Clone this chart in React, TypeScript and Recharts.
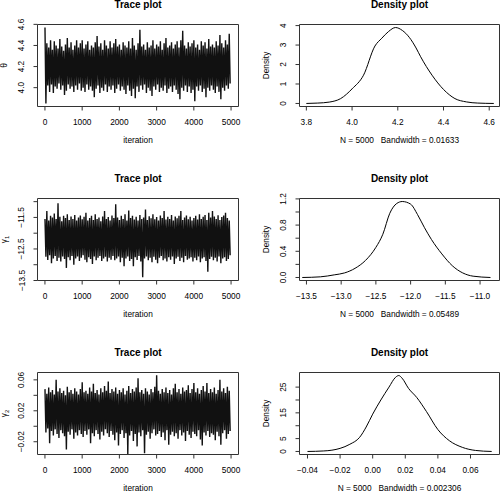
import React from 'react';
import { LineChart, Line, XAxis, YAxis, ReferenceArea, Label } from 'recharts';

const FONT = '"Liberation Sans", Arial, Helvetica, sans-serif';
const W = 500;
const H = 493;

// trace plots: per 50-iteration block, the upper and lower reach of the chain
const thetaHi = [4.57, 4.42, 4.38, 4.45, 4.36, 4.44, 4.40, 4.37, 4.46, 4.39, 4.35, 4.41, 4.47, 4.38, 4.43, 4.36, 4.40, 4.45, 4.38, 4.42,
  4.45, 4.37, 4.41, 4.44, 4.36, 4.40, 4.38, 4.43, 4.49, 4.39, 4.42, 4.36, 4.45, 4.40, 4.37, 4.44, 4.38, 4.42, 4.46, 4.39,
  4.41, 4.36, 4.43, 4.40, 4.38, 4.44, 4.37, 4.47, 4.40, 4.36, 4.42, 4.55, 4.39, 4.41, 4.36, 4.43, 4.38, 4.40, 4.45, 4.37,
  4.41, 4.39, 4.44, 4.36, 4.42, 4.47, 4.38, 4.40, 4.43, 4.37, 4.41, 4.44, 4.38, 4.45, 4.54, 4.40, 4.37, 4.43, 4.39, 4.42,
  4.45, 4.38, 4.41, 4.36, 4.44, 4.40, 4.43, 4.37, 4.46, 4.39, 4.41, 4.38, 4.44, 4.40, 4.50, 4.42, 4.38, 4.45, 4.41, 4.51];
const thetaLo = [3.85, 4.02, 3.96, 4.03, 3.95, 4.01, 3.99, 4.04, 3.98, 4.02, 3.93, 3.97, 4.03, 3.99, 4.01, 3.96, 4.02, 3.98, 4.04, 3.97,
  4.00, 3.96, 4.03, 3.98, 4.01, 3.97, 3.91, 3.99, 4.02, 3.95, 4.00, 3.97, 4.03, 3.96, 4.01, 3.98, 4.02, 3.95, 3.99, 4.03,
  3.97, 4.01, 3.98, 3.94, 4.02, 3.97, 3.92, 3.99, 3.90, 4.01, 3.96, 4.02, 3.98, 4.03, 3.95, 4.00, 3.97, 3.92, 4.01, 3.98,
  4.03, 3.96, 4.00, 3.97, 4.02, 3.95, 3.99, 4.01, 3.96, 4.02, 3.98, 3.94, 3.89, 4.00, 3.97, 4.02, 3.96, 4.01, 3.95, 3.98,
  3.87, 4.01, 3.97, 4.02, 3.96, 3.99, 3.91, 4.00, 3.97, 4.02, 3.98, 3.95, 4.01, 3.96, 3.89, 4.00, 3.97, 4.02, 3.99, 4.04];

const gamma1Hi = [-11.55, -11.30, -11.60, -11.45, -11.50, -11.38, -11.55, -11.05, -11.48, -11.62, -11.45, -11.52, -11.40, -11.58, -11.47, -11.55, -11.42, -11.60, -11.50, -11.44,
  -11.56, -11.48, -11.35, -11.60, -11.52, -11.45, -11.58, -11.40, -11.55, -11.50, -11.62, -11.47, -11.30, -11.55, -11.49, -11.60, -11.44, -11.52, -11.08, -11.50,
  -11.58, -11.45, -11.55, -11.40, -11.60, -11.28, -11.52, -11.45, -11.57, -11.48, -11.60, -11.42, -11.55, -11.50, -11.25, -11.58, -11.46, -11.53, -11.40, -11.56,
  -11.49, -11.60, -11.44, -11.52, -11.30, -11.57, -11.48, -11.55, -11.42, -11.60, -11.47, -11.53, -11.45, -11.30, -11.58, -11.50, -11.44, -11.56, -11.48, -11.60,
  -11.52, -11.45, -11.57, -11.40, -11.55, -11.48, -11.42, -11.58, -11.35, -11.50, -11.30, -11.47, -11.55, -11.43, -11.58, -11.49, -11.44, -11.35, -11.52, -11.60];
const gamma1Lo = [-12.75, -12.85, -12.70, -12.95, -12.80, -12.72, -12.88, -12.78, -12.90, -12.74, -12.82, -13.10, -12.76, -12.86, -12.72, -13.00, -12.80, -12.74, -12.88, -12.78,
  -12.70, -12.84, -12.92, -12.76, -12.82, -12.98, -12.74, -12.86, -12.78, -12.72, -12.88, -12.80, -12.75, -12.90, -12.78, -12.84, -12.72, -12.86, -12.80, -12.74,
  -12.92, -12.78, -13.05, -12.80, -12.74, -12.88, -12.82, -13.05, -12.76, -12.85, -12.72, -12.90, -13.40, -12.80, -12.74, -12.86, -12.78, -12.92, -12.75, -12.84,
  -12.95, -12.78, -12.72, -12.86, -12.80, -12.90, -12.76, -12.84, -12.74, -12.98, -12.80, -12.75, -12.88, -12.78, -12.92, -12.72, -12.84, -12.80, -12.76, -12.90,
  -12.78, -12.86, -12.74, -12.92, -12.80, -12.76, -12.88, -13.22, -12.82, -12.75, -12.86, -12.78, -12.90, -12.74, -12.95, -12.80, -12.76, -12.88, -12.82, -12.70];

const gamma2Hi = [0.048, 0.042, 0.050, 0.044, 0.047, 0.041, 0.060, 0.045, 0.049, 0.043, 0.046, 0.040, 0.051, 0.044, 0.047, 0.042, 0.049, 0.045, 0.041, 0.048,
  0.057, 0.044, 0.046, 0.042, 0.050, 0.045, 0.055, 0.043, 0.047, 0.041, 0.049, 0.044, 0.052, 0.046, 0.058, 0.043, 0.048, 0.045, 0.050, 0.042,
  0.047, 0.044, 0.049, 0.041, 0.046, 0.052, 0.043, 0.048, 0.045, 0.050, 0.062, 0.044, 0.047, 0.042, 0.049, 0.045, 0.041, 0.048, 0.044, 0.051,
  0.066, 0.046, 0.042, 0.048, 0.044, 0.050, 0.043, 0.047, 0.041, 0.049, 0.055, 0.044, 0.048, 0.042, 0.050, 0.045, 0.047, 0.053, 0.043, 0.048,
  0.056, 0.044, 0.049, 0.042, 0.047, 0.052, 0.045, 0.056, 0.043, 0.048, 0.044, 0.050, 0.042, 0.047, 0.060, 0.045, 0.049, 0.043, 0.051, 0.046];
const gamma2Lo = [-0.008, -0.003, -0.022, -0.006, -0.012, -0.004, -0.010, -0.015, -0.005, -0.009, -0.013, -0.030, -0.007, -0.011, -0.004, -0.016, -0.008, -0.012, -0.005, -0.010,
  -0.014, -0.006, -0.011, -0.004, -0.022, -0.009, -0.013, -0.005, -0.010, -0.017, -0.007, -0.012, -0.004, -0.009, -0.014, -0.006, -0.011, -0.018, -0.008, -0.025,
  -0.010, -0.005, -0.015, -0.009, -0.036, -0.012, -0.006, -0.019, -0.010, -0.026, -0.008, -0.013, -0.005, -0.035, -0.011, -0.007, -0.016, -0.009, -0.004, -0.012,
  -0.010, -0.006, -0.014, -0.008, -0.018, -0.005, -0.024, -0.011, -0.007, -0.013, -0.009, -0.016, -0.005, -0.012, -0.008, -0.019, -0.006, -0.011, -0.015, -0.007,
  -0.010, -0.013, -0.005, -0.017, -0.025, -0.008, -0.012, -0.006, -0.014, -0.009, -0.011, -0.018, -0.007, -0.013, -0.024, -0.009, -0.005, -0.016, -0.010, -0.006];

// density curves
const thetaDensX = [3.80, 3.85, 3.90, 3.95, 4.00, 4.05, 4.10, 4.13, 4.16, 4.19, 4.22, 4.25, 4.28, 4.30, 4.35, 4.40, 4.45, 4.50, 4.55, 4.62];
const thetaDensY = [0.00, 0.02, 0.07, 0.25, 0.75, 1.45, 2.95, 3.35, 3.70, 3.90, 3.75, 3.40, 2.85, 2.40, 1.45, 0.72, 0.25, 0.08, 0.02, 0.00];
const gamma1DensX = [-13.56, -13.3, -13.1, -12.95, -12.8, -12.65, -12.5, -12.4, -12.3, -12.2, -12.12, -12.0, -11.9, -11.8, -11.7, -11.55, -11.4, -11.25, -11.1, -10.85];
const gamma1DensY = [0.0, 0.01, 0.04, 0.07, 0.14, 0.26, 0.46, 0.66, 0.98, 1.13, 1.16, 1.12, 0.96, 0.76, 0.58, 0.36, 0.18, 0.07, 0.02, 0.0];
const gamma2DensX = [-0.040, -0.030, -0.025, -0.020, -0.014, -0.008, -0.004, 0.000, 0.005, 0.010, 0.014, 0.016, 0.018, 0.022, 0.027, 0.033, 0.040, 0.047, 0.055, 0.063, 0.073];
const gamma2DensY = [0.0, 0.2, 0.5, 1.2, 2.8, 5.5, 9.5, 14.5, 20.0, 25.0, 28.8, 29.5, 28.5, 24.5, 21.0, 15.5, 8.5, 4.2, 1.6, 0.4, 0.0];

// ticks
const iterTicks = [0, 1000, 2000, 3000, 4000, 5000];
const thetaTicks = [4.0, 4.2, 4.4, 4.6];
const gamma1Ticks = [-13.5, -13.0, -12.5, -12.0, -11.5, -11.0];
const gamma1Labeled = [-13.5, -12.5, -11.5];
const gamma2Ticks = [-0.02, 0.0, 0.02, 0.04, 0.06];
const gamma2Labeled = [-0.02, 0.02, 0.06];
const thetaDensXTicks = [3.8, 4.0, 4.2, 4.4, 4.6];
const thetaDensYTicks = [0, 1, 2, 3, 4];
const gamma1DensXTicks = [-13.5, -13.0, -12.5, -12.0, -11.5, -11.0];
const gamma1DensYTicks = [0, 0.2, 0.4, 0.6, 0.8, 1.0, 1.2];
const gamma1DensYLabeled = [0, 0.4, 0.8, 1.2];
const gamma2DensXTicks = [-0.04, -0.02, 0.0, 0.02, 0.04, 0.06];
const gamma2DensYTicks = [0, 5, 10, 15, 20, 25];
const gamma2DensYLabeled = [0, 5, 15, 25];

const traceRows = (hi: number[], lo: number[]) =>
  hi.flatMap((h, i) => [{ x: i * 50 + 1, y: h }, { x: i * 50 + 26, y: lo[i] }]);
const densRows = (xs: number[], ys: number[]) => xs.map((x, i) => ({ x, y: ys[i] }));

const fmt = (d: number) => (v: number) => v.toFixed(d).replace('-', '\u2212');

const TRACE_L = 37.5, TRACE_R = 238.5, DENS_L = 299.5, DENS_R = 499.5;
const ROWS = [
  { top: 24.5, bottom: 106.5 },
  { top: 198.5, bottom: 280.5 },
  { top: 372.5, bottom: 454.5 },
];

function Panel(p: any) {
  const { left, right, top, bottom } = p;
  const labeledX = p.xLabeled || p.xTicks;
  const labeledY = p.yLabeled || p.yTicks;
  const XTick = (t: any) =>
    labeledX.includes(t.payload.value) ? (
      <text x={t.x} y={bottom + 18.5} textAnchor="middle" fontSize={8.3} fontFamily={FONT} fill="#000">
        {p.xFmt(t.payload.value)}
      </text>
    ) : <g />;
  const YTick = (t: any) =>
    labeledY.includes(t.payload.value) ? (
      <text x={left - 13} y={t.y} transform={`rotate(-90, ${left - 13}, ${t.y})`} textAnchor="middle" fontSize={8.3} fontFamily={FONT} fill="#000">
        {p.yFmt(t.payload.value)}
      </text>
    ) : <g />;
  const cx = (left + right) / 2;
  const cy = (top + bottom) / 2;
  return (
    <div style={{ position: 'absolute', left: 0, top: 0 }}>
      <LineChart
        width={W}
        height={H}
        data={p.data}
        margin={{ top, left: left - 30, right: W - right, bottom: H - bottom - 30 }}
      >
        <XAxis
          dataKey="x"
          type="number"
          domain={p.xDomain}
          ticks={p.xTicks}
          interval={0}
          allowDataOverflow
          height={30}
          axisLine={false}
          tickSize={4}
          tickLine={{ stroke: '#333' }}
          tick={XTick}
        >
          <Label
            content={() => (
              <text x={cx} y={bottom + 36.8} textAnchor="middle" fontSize={8.3} fontFamily={FONT} fill="#000" style={{ whiteSpace: 'pre' }}>
                {p.xLabel}
              </text>
            )}
          />
        </XAxis>
        <YAxis
          type="number"
          domain={p.yDomain}
          ticks={p.yTicks}
          interval={0}
          allowDataOverflow
          width={30}
          axisLine={false}
          tickSize={4}
          tickLine={{ stroke: '#333' }}
          tick={YTick}
        >
          <Label
            content={() => (
              <text x={left - 31} y={cy} transform={`rotate(-90, ${left - 31}, ${cy})`} textAnchor="middle" fontSize={8.3} fontFamily={FONT} fill="#000">
                {p.yLabel}
              </text>
            )}
          />
        </YAxis>
        <ReferenceArea
          x1={p.xDomain[0]}
          x2={p.xDomain[1]}
          y1={p.yDomain[0]}
          y2={p.yDomain[1]}
          fill="none"
          stroke="#333"
          strokeWidth={1}
          ifOverflow="visible"
        />
        <Line
          dataKey="y"
          type={p.smooth ? 'monotone' : 'linear'}
          stroke={p.color}
          strokeWidth={p.strokeWidth}
          strokeLinejoin="miter"
          dot={false}
          activeDot={false}
          isAnimationActive={false}
        />
        <text x={cx} y={top - 16.3} textAnchor="middle" fontSize={10} fontWeight="bold" fontFamily={FONT} fill="#000">
          {p.title}
        </text>
      </LineChart>
    </div>
  );
}

export default function App() {
  const trace = { left: TRACE_L, right: TRACE_R, xDomain: [-200, 5200], xTicks: iterTicks, xFmt: fmt(0), title: 'Trace plot', xLabel: 'iteration', color: '#111', strokeWidth: 1.4, smooth: false };
  const dens = { left: DENS_L, right: DENS_R, title: 'Density plot', yLabel: 'Density', color: '#000', strokeWidth: 1, smooth: true };
  return (
    <div style={{ position: 'fixed', left: 0, top: 0, width: W, height: H, background: '#fff', overflow: 'hidden' }}>
      <Panel {...trace} {...ROWS[0]} data={traceRows(thetaHi, thetaLo)} yDomain={[3.8212, 4.5988]} yTicks={thetaTicks} yFmt={fmt(1)} yLabel="θ" />
      <Panel {...dens} {...ROWS[0]} data={densRows(thetaDensX, thetaDensY)} xDomain={[3.77, 4.645]} xTicks={thetaDensXTicks} xFmt={fmt(1)}
        yDomain={[-0.156, 4.056]} yTicks={thetaDensYTicks} yFmt={fmt(0)} xLabel="N = 5000   Bandwidth = 0.01633" />
      <Panel {...trace} {...ROWS[1]} data={traceRows(gamma1Hi, gamma1Lo)} yDomain={[-13.5, -10.9]} yTicks={gamma1Ticks} yLabeled={gamma1Labeled} yFmt={fmt(1)}
        yLabel={<>γ<tspan fontSize={6} dy={2}>1</tspan></>} />
      <Panel {...dens} {...ROWS[1]} data={densRows(gamma1DensX, gamma1DensY)} xDomain={[-13.6, -10.72]} xTicks={gamma1DensXTicks} xFmt={fmt(1)}
        yDomain={[-0.046, 1.206]} yTicks={gamma1DensYTicks} yLabeled={gamma1DensYLabeled} yFmt={fmt(1)} xLabel="N = 5000   Bandwidth = 0.05489" />
      <Panel {...trace} {...ROWS[2]} data={traceRows(gamma2Hi, gamma2Lo)} yDomain={[-0.0365, 0.0695]} yTicks={gamma2Ticks} yLabeled={gamma2Labeled} yFmt={fmt(2)}
        yLabel={<>γ<tspan fontSize={6} dy={2}>2</tspan></>} />
      <Panel {...dens} {...ROWS[2]} data={densRows(gamma2DensX, gamma2DensY)} xDomain={[-0.0449, 0.0778]} xTicks={gamma2DensXTicks} xFmt={fmt(2)}
        yDomain={[-1.18, 30.68]} yTicks={gamma2DensYTicks} yLabeled={gamma2DensYLabeled} yFmt={fmt(0)} xLabel="N = 5000   Bandwidth = 0.002306" />
    </div>
  );
}
